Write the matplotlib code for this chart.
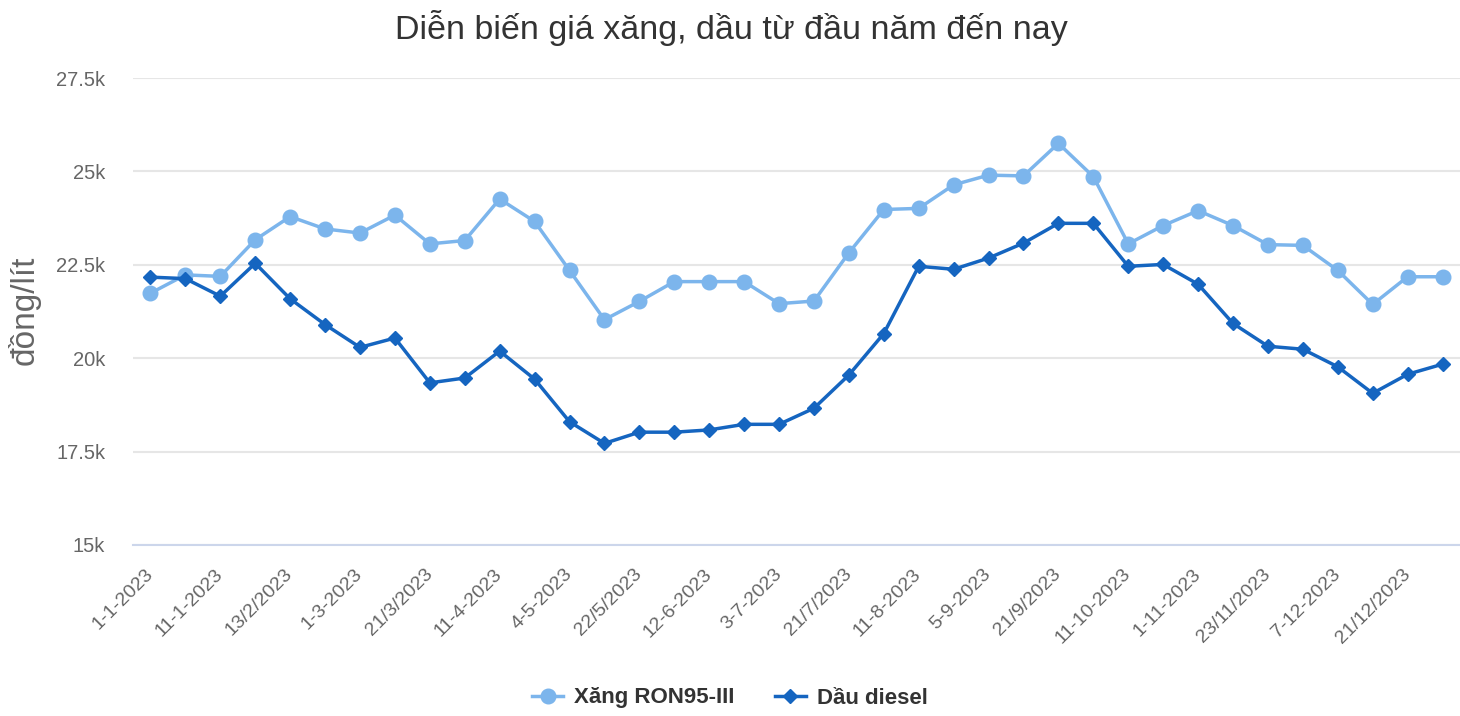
import numpy as np
import matplotlib
matplotlib.use('Agg')
import matplotlib.pyplot as plt
from matplotlib.ticker import FuncFormatter

# du lieu doc tu bieu do (dong/lit)
tick_labels = ['1-1-2023', '11-1-2023', '13/2/2023', '1-3-2023', '21/3/2023',
               '11-4-2023', '4-5-2023', '22/5/2023', '12-6-2023', '3-7-2023',
               '21/7/2023', '11-8-2023', '5-9-2023', '21/9/2023', '11-10-2023',
               '1-11-2023', '23/11/2023', '7-12-2023', '21/12/2023']
xang_ron95 = [21740, 22230, 22190, 23170, 23790, 23460, 23350, 23830, 23060, 23150,
              24260, 23660, 22350, 21030, 21520, 22050, 22050, 22050, 21460, 21530,
              22820, 23980, 24010, 24640, 24900, 24880, 25750, 24860, 23060, 23550,
              23950, 23550, 23040, 23020, 22350, 21440, 22180, 22180]
dau_diesel = [22170, 22130, 21660, 22540, 21590, 20900, 20290, 20540, 19340, 19470,
              20190, 19440, 18300, 17720, 18020, 18020, 18080, 18230, 18230, 18660,
              19550, 20660, 22460, 22380, 22680, 23080, 23610, 23610, 22460, 22510,
              21980, 20930, 20320, 20240, 19770, 19060, 19570, 19840]
series_names = ['Xăng RON95-III', 'Dầu diesel']

plt.rcParams['font.family'] = ['Liberation Sans', 'DejaVu Sans']

fig = plt.figure(figsize=(14.6, 7.16), dpi=100)
ax = fig.add_axes([133 / 1460, 171 / 716, 1327 / 1460, 467 / 716])

x = np.arange(len(xang_ron95))
ax.plot(x, xang_ron95, color='#7cb5ec', lw=2.5, marker='o', ms=10.5,
        label=series_names[0], zorder=3)
ax.plot(x, dau_diesel, color='#1565c0', lw=2.5, marker='D', ms=7,
        label=series_names[1], zorder=4)

ax.set_xlim(-0.5, len(x) - 0.5)
ax.set_ylim(15000, 27500)
ax.set_yticks(np.arange(15000, 27501, 2500))
ax.yaxis.set_major_formatter(FuncFormatter(lambda v, p: '%gk' % (v / 1000)))
ax.set_xticks(x[::2])
ax.set_xticklabels(tick_labels, rotation=45, ha='right', va='center',
                   rotation_mode='anchor')

ax.grid(axis='y', color='#e6e6e6', lw=1.5)
ax.set_axisbelow(True)
for side in ['top', 'right', 'left']:
    ax.spines[side].set_visible(False)
ax.spines['bottom'].set_color('#ccd6eb')
ax.spines['bottom'].set_linewidth(1.5)
ax.tick_params(axis='x', length=0, pad=19, labelsize=14, labelcolor='#666666')
ax.tick_params(axis='y', length=0, pad=20, labelsize=14.5, labelcolor='#666666')

fig.text(731 / 1460, 1 - 28 / 716, 'Diễn biến giá xăng, dầu từ đầu năm đến nay',
         ha='center', va='center', fontsize=24.5, color='#333333')
fig.text(24 / 1460, 1 - 310 / 716, 'đồng/lít', rotation=90,
         ha='center', va='center', fontsize=24, color='#666666')

fig.legend(loc='center', bbox_to_anchor=(0.5, 1 - 698 / 716), ncol=2,
           frameon=False, prop={'size': 16, 'weight': 'bold'},
           handlelength=1.4, handletextpad=0.5, columnspacing=1.8,
           labelcolor='#333333')

fig.savefig('out.png', dpi=100)
